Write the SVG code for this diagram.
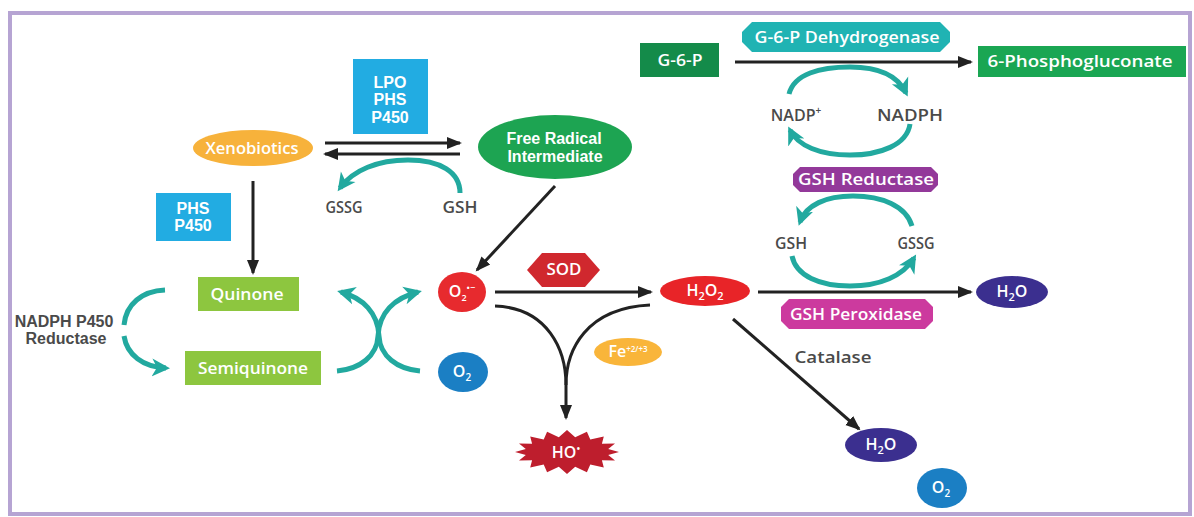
<svg xmlns="http://www.w3.org/2000/svg" width="1194" height="517" viewBox="0 0 1194 517">
  <defs>
    <style>
      .lbl { font-family: "Open Sans", "Liberation Sans", sans-serif; font-weight: 600; text-anchor: middle; font-size: 16px; }
      .stack { font-family: "Liberation Sans", Arial, sans-serif; font-weight: 700; }
      .w { fill: #ffffff; }
      .g { fill: #4a4a4a; }
      .blk { fill: none; stroke: #222222; stroke-width: 3; }
      .teal { fill: none; stroke: #22a99f; stroke-width: 5; }
    </style>
    <marker id="ah" markerUnits="userSpaceOnUse" markerWidth="16" markerHeight="14" refX="13" refY="7" orient="auto">
      <path d="M0,1 L15,7 L0,13 Z" fill="#222222"/>
    </marker>
    <marker id="th" markerUnits="userSpaceOnUse" markerWidth="20" markerHeight="20" refX="14" refY="10" orient="auto">
      <path d="M0,1 L18,10 L0,19 L5,10 Z" fill="#22a99f"/>
    </marker>
  </defs>

  <rect x="0" y="0" width="1194" height="517" fill="#ffffff"/>
  <!-- outer frame -->
  <rect x="10" y="13" width="1180" height="501" fill="#ffffff" stroke="#b6a4d3" stroke-width="4"/>

  <!-- connectors -->
  <g id="connectors">
    <!-- xenobiotics <-> free radical -->
    <line class="blk" x1="325" y1="143" x2="460" y2="143" marker-end="url(#ah)"/>
    <line class="blk" x1="460" y1="154" x2="325" y2="154" marker-end="url(#ah)"/>
    <!-- xenobiotics -> quinone -->
    <line class="blk" x1="253" y1="181" x2="253" y2="273" marker-end="url(#ah)"/>
    <!-- free radical -> superoxide -->
    <line class="blk" x1="555" y1="186" x2="477" y2="270" marker-end="url(#ah)"/>
    <!-- superoxide -> hydrogen peroxide -->
    <line class="blk" x1="495" y1="292" x2="651" y2="292" marker-end="url(#ah)"/>
    <!-- Fenton branch -> hydroxyl radical -->
    <path class="blk" d="M495,306 C548,308 566,350 566,385 L566,418" marker-end="url(#ah)"/>
    <path class="blk" d="M650,305 C586,308 566,350 566,385"/>
    <!-- peroxide -> water -->
    <line class="blk" x1="758" y1="292" x2="971" y2="292" marker-end="url(#ah)"/>
    <!-- catalase -->
    <line class="blk" x1="733" y1="319" x2="859" y2="429" marker-end="url(#ah)"/>
    <!-- G-6-P -> 6-phosphogluconate -->
    <line class="blk" x1="735" y1="62" x2="971" y2="62" marker-end="url(#ah)"/>

    <!-- GSH -> GSSG (conjugation) -->
    <path class="teal" d="M460,193 C460,172 440,160 408,160 C378,160 353,170 340,188" marker-end="url(#th)"/>
    <!-- NADPH P450 reductase cycle -->
    <path class="teal" d="M165,290 C142,291 126,304 124,325"/>
    <path class="teal" d="M124,336 C127,355 143,367 166,368" marker-end="url(#th)"/>
    <!-- redox cycling cross -->
    <path class="teal" d="M337,371 C360,369 377,356 378,336 C379,313 394,298 418,292" marker-end="url(#th)"/>
    <path class="teal" d="M420,371 C397,369 380,356 379,336 C378,313 363,298 341,292" marker-end="url(#th)"/>
    <!-- NADP+ / NADPH cycle -->
    <path class="teal" d="M789,94 C794,74 820,67 850,67 C880,67 898,76 906,93" marker-end="url(#th)"/>
    <path class="teal" d="M910,124 C907,145 880,155 850,155 C820,155 798,146 790,130" marker-end="url(#th)"/>
    <!-- GSSG / GSH cycle -->
    <path class="teal" d="M912,226 C906,206 882,196 853,196 C826,196 806,205 800,222" marker-end="url(#th)"/>
    <path class="teal" d="M792,256 C796,276 820,286 850,286 C880,286 903,276 914,258" marker-end="url(#th)"/>
  </g>

  <!-- nodes -->
  <g id="lpo-phs-p450">
    <rect x="353" y="59" width="75" height="75" fill="#22ace2"/>
    <text class="lbl stack w" font-size="15"><tspan x="390" y="88">LPO</tspan><tspan x="390" y="105">PHS</tspan><tspan x="390" y="123">P450</tspan></text>
  </g>
  <g id="xenobiotics">
    <ellipse cx="253" cy="148" rx="60" ry="18" fill="#f7b23b"/>
    <text class="lbl w" x="252" y="154" textLength="93" lengthAdjust="spacingAndGlyphs">Xenobiotics</text>
  </g>
  <g id="free-radical">
    <ellipse cx="555" cy="147" rx="77" ry="32" fill="#1da452"/>
    <text class="lbl stack w" font-size="16"><tspan x="554" y="144">Free Radical</tspan><tspan x="555" y="162">Intermediate</tspan></text>
  </g>
  <g id="gssg-gsh-left">
    <text class="lbl g" x="344" y="213" font-size="15" textLength="37" lengthAdjust="spacingAndGlyphs">GSSG</text>
    <text class="lbl g" x="460" y="213" font-size="15" textLength="35" lengthAdjust="spacingAndGlyphs">GSH</text>
  </g>
  <g id="phs-p450">
    <rect x="156" y="193" width="75" height="48" fill="#22ace2"/>
    <text class="lbl stack w" font-size="15"><tspan x="193" y="214">PHS</tspan><tspan x="193" y="231">P450</tspan></text>
  </g>
  <g id="quinone">
    <rect x="198" y="277" width="101" height="34" fill="#8dc63f"/>
    <text class="lbl w" x="247" y="300" textLength="73" lengthAdjust="spacingAndGlyphs">Quinone</text>
  </g>
  <g id="semiquinone">
    <rect x="185" y="351" width="136" height="34" fill="#8dc63f"/>
    <text class="lbl w" x="253" y="374" textLength="110" lengthAdjust="spacingAndGlyphs">Semiquinone</text>
  </g>
  <g id="reductase-label">
    <text class="lbl stack g" font-size="14"><tspan x="64" y="327">NADPH P450</tspan><tspan x="66" y="344">Reductase</tspan></text>
  </g>
  <g id="superoxide">
    <ellipse cx="462" cy="292" rx="24" ry="20" fill="#e72a2e"/>
    <text class="lbl w" x="462" y="297" font-size="15">O<tspan font-size="9" dy="4">2</tspan><tspan font-size="9" dy="-10">•−</tspan></text>
  </g>
  <g id="oxygen-left">
    <ellipse cx="463" cy="372" rx="25" ry="20" fill="#1b7fc4"/>
    <text class="lbl w" x="462" y="377" font-size="15">O<tspan font-size="10" dy="4">2</tspan></text>
  </g>
  <g id="sod">
    <polygon points="527,270 542,253 585,253 600,270 585,287 542,287" fill="#d0282e"/>
    <text class="lbl w" x="564" y="275" font-size="15" textLength="35" lengthAdjust="spacingAndGlyphs">SOD</text>
  </g>
  <g id="hydrogen-peroxide">
    <ellipse cx="705" cy="291" rx="45" ry="15" fill="#e82428"/>
    <text class="lbl w" x="705" y="296" font-size="17">H<tspan font-size="11" dy="4">2</tspan><tspan dy="-4">O</tspan><tspan font-size="11" dy="4">2</tspan></text>
  </g>
  <g id="iron">
    <ellipse cx="628" cy="352" rx="34" ry="14" fill="#f9b53a"/>
    <text class="lbl w" x="628" y="357" font-size="13">Fe<tspan font-size="8" dy="-5">+2/+3</tspan></text>
  </g>
  <g id="hydroxyl-radical">
    <polygon fill="#be1e2d" points="619,452 608.2,454.9 615,460.4 601.9,460.3 603.8,467.6 590.3,464.5 586.9,472.3 575.2,466.7 567,474 558.8,466.7 547.1,472.3 543.7,464.5 530.2,467.6 532.1,460.3 519,460.4 525.8,454.9 515,452 525.8,449.1 519,443.6 532.1,443.7 530.2,436.4 543.7,439.5 547.1,431.7 558.8,437.3 567,430 575.2,437.3 586.9,431.7 590.3,439.5 603.8,436.4 601.9,443.7 615,443.6 608.2,449.1"/>
    <text class="lbl w" x="566" y="458" font-size="16">HO<tspan font-size="10" dy="-6">•</tspan></text>
  </g>
  <g id="water-right">
    <ellipse cx="1012" cy="292" rx="36" ry="16" fill="#3b2f8f"/>
    <text class="lbl w" x="1012" y="297" font-size="17">H<tspan font-size="11" dy="4">2</tspan><tspan dy="-4">O</tspan></text>
  </g>
  <g id="gsh-peroxidase">
    <polygon points="789,299 925,299 933,307 933,321 925,329 789,329 781,321 781,307" fill="#cc3a9e"/>
    <text class="lbl w" x="856" y="320" textLength="132" lengthAdjust="spacingAndGlyphs">GSH Peroxidase</text>
  </g>
  <g id="catalase-label">
    <text class="lbl g" x="833" y="363" textLength="77" lengthAdjust="spacingAndGlyphs">Catalase</text>
  </g>
  <g id="water-lower">
    <ellipse cx="881" cy="445" rx="36" ry="17" fill="#3b2f8f"/>
    <text class="lbl w" x="881" y="450" font-size="17">H<tspan font-size="11" dy="4">2</tspan><tspan dy="-4">O</tspan></text>
  </g>
  <g id="oxygen-lower">
    <ellipse cx="942" cy="488" rx="25" ry="20" fill="#1b7fc4"/>
    <text class="lbl w" x="941" y="493" font-size="15">O<tspan font-size="10" dy="4">2</tspan></text>
  </g>
  <g id="gsh-gssg-right">
    <text class="lbl g" x="791" y="249" font-size="15" textLength="32" lengthAdjust="spacingAndGlyphs">GSH</text>
    <text class="lbl g" x="916" y="249" font-size="15" textLength="37" lengthAdjust="spacingAndGlyphs">GSSG</text>
  </g>
  <g id="gsh-reductase">
    <polygon points="800,167 931,167 938,174 938,185 931,192 800,192 793,185 793,174" fill="#93399a"/>
    <text class="lbl w" x="866" y="185" textLength="136" lengthAdjust="spacingAndGlyphs">GSH Reductase</text>
  </g>
  <g id="nadp">
    <text class="lbl g" x="796" y="121">NADP<tspan font-size="10" dy="-7">+</tspan></text>
    <text class="lbl g" x="910" y="121" textLength="66" lengthAdjust="spacingAndGlyphs">NADPH</text>
  </g>
  <g id="g6p-dehydrogenase">
    <polygon points="752,22 940,22 950,32 950,42 940,52 752,52 742,42 742,32" fill="#20b3b3"/>
    <text class="lbl w" x="847" y="43" textLength="185" lengthAdjust="spacingAndGlyphs">G-6-P Dehydrogenase</text>
  </g>
  <g id="g6p">
    <rect x="640" y="43" width="79" height="34" fill="#148b4a"/>
    <text class="lbl w" x="680" y="66" textLength="45" lengthAdjust="spacingAndGlyphs">G-6-P</text>
  </g>
  <g id="phosphogluconate">
    <rect x="978" y="46" width="208" height="31" fill="#1aa653"/>
    <text class="lbl w" x="1080" y="67" textLength="185" lengthAdjust="spacingAndGlyphs">6-Phosphogluconate</text>
  </g>
</svg>
